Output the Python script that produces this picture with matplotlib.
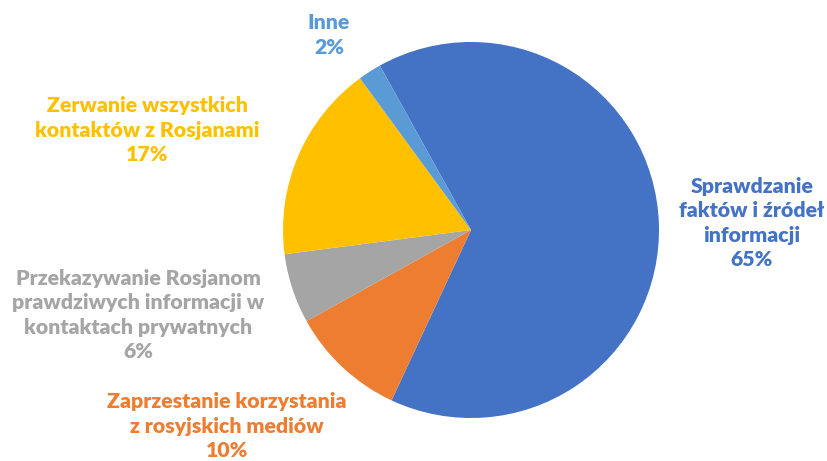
import matplotlib
matplotlib.use("Agg")
import matplotlib.pyplot as plt

labels = ["Sprawdzanie\nfaktów i źródeł\ninformacji",
          "Zaprzestanie korzystania\nz rosyjskich mediów",
          "Przekazywanie Rosjanom\nprawdziwych informacji w\nkontaktach prywatnych",
          "Zerwanie wszystkich\nkontaktów z Rosjanami",
          "Inne"]
values = [65, 10, 6, 17, 2]
colors = ["#4472C4", "#ED7D31", "#A5A5A5", "#FFC000", "#5B9BD5"]
# label centres in pixel coords (x, y from top)
label_pos = [(752, 223), (227, 426), (138, 315), (147, 130), (329, 35)]

W, H = 827, 461
fig = plt.figure(figsize=(W/100, H/100), dpi=100)
ax = fig.add_axes([0, 0, 1, 1])

ax.pie(values, colors=colors, startangle=119, counterclock=False,
       center=(471, H - 230), radius=188, frame=True,
       wedgeprops=dict(linewidth=0))
ax.set_xlim(0, W)
ax.set_ylim(0, H)
ax.set_aspect("equal")
ax.axis("off")

for lab, v, c, (x, y) in zip(labels, values, colors, label_pos):
    ax.text(x, H - y, f"{lab}\n{v}%", color=c, fontsize=15.3, fontweight="heavy",
            family="Lato", ha="center", va="center", multialignment="center",
            linespacing=1.33)

fig.savefig("out.png", dpi=100)
